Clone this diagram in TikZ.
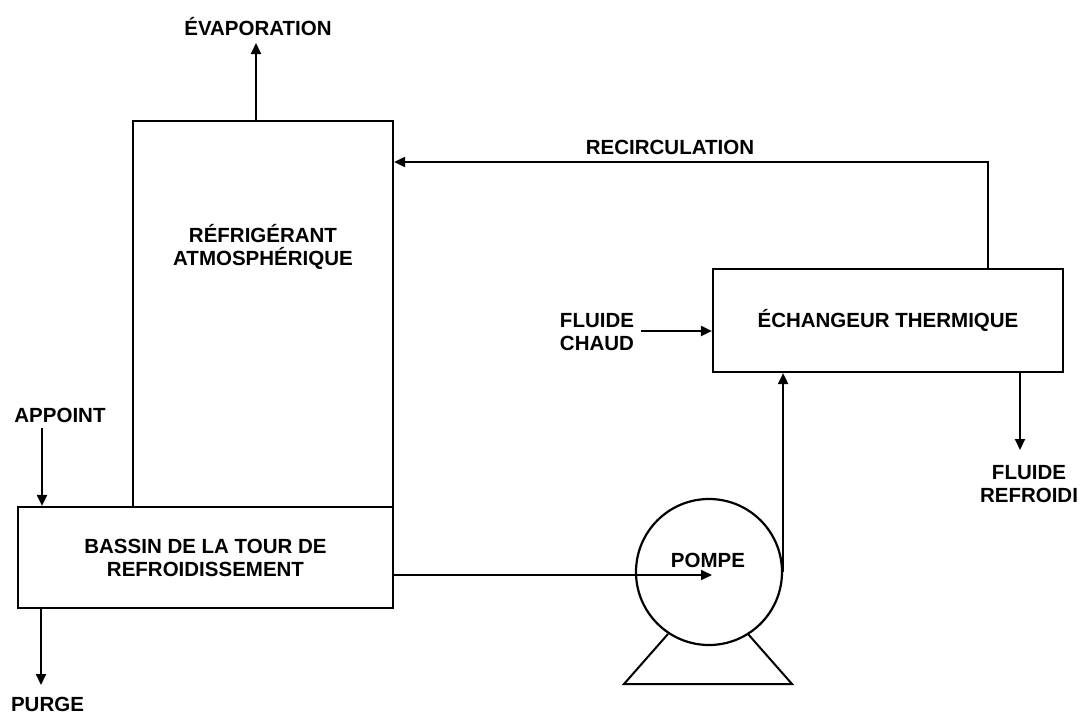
\documentclass[tikz,border=0pt]{standalone}
\usepackage{fontspec}
\setmainfont{Liberation Sans}
\usetikzlibrary{arrows.meta}
\tikzset{
  lbl/.style={font=\bfseries\fontsize{20.5}{23}\selectfont, inner sep=0pt, align=center},
  unit/.style={draw, line width=2.2pt, inner sep=0pt},
  flow/.style={line width=2pt, -{Triangle[length=11pt,width=10pt]}},
  plain/.style={line width=2pt}
}
\begin{document}
\begin{tikzpicture}[x=1pt,y=-1pt]
\useasboundingbox (0,0) rectangle (1080,715);
% units
\node[unit, minimum width=260pt, minimum height=386pt] (tower) at (263,314) {};
\node[lbl] (towertxt) at (263,247) {RÉFRIGÉRANT\\ATMOSPHÉRIQUE};
\node[unit, minimum width=375pt, minimum height=101pt, lbl, draw, line width=2.2pt] (basin) at (205.5,557.5) {BASSIN DE LA TOUR DE\\REFROIDISSEMENT};
\node[unit, minimum width=350pt, minimum height=103pt, lbl, draw, line width=2.2pt] (exch) at (888,320.5) {ÉCHANGEUR THERMIQUE};
\node[unit, circle, minimum size=146pt] (pump) at (709,572) {};
\node[lbl] (pumptxt) at (708,560) {POMPE};
% pump base
\draw[plain, line join=miter] (668,634) -- (624,684) -- (792,684) -- (748,634);
% labels
\node[lbl] (evap) at (258,27) {ÉVAPORATION};
\node[lbl] (recirc) at (670,147) {RECIRCULATION};
\node[lbl, align=left] (chaud) at (597,332) {FLUIDE\\CHAUD};
\node[lbl] (refroidi) at (1029,484) {FLUIDE\\REFROIDI};
\node[lbl] (appoint) at (60,415) {APPOINT};
\node[lbl] (purge) at (47.5,704) {PURGE};
% coordinates
\coordinate (evtop) at (256,43);
\coordinate (rc) at (988,162);
\coordinate (bp) at (712,575);
\coordinate (ap) at (42,428);
\coordinate (pg) at (41,685);
\coordinate (rf) at (1020,450);
\coordinate (ch) at (641,331);
% connectors
\draw[flow] (tower.north -| evtop) -- (evtop);
\draw[flow] (exch.north -| rc) -- (rc) -- (rc -| tower.east);
\draw[flow] (ch) -- (ch -| exch.west);
\draw[flow] (pump.east) -- (pump.east |- exch.south);
\draw[flow] (bp -| basin.east) -- (bp);
\draw[flow] (ap) -- (ap |- basin.north);
\draw[flow] (pg |- basin.south) -- (pg);
\draw[flow] (rf |- exch.south) -- (rf);
\end{tikzpicture}
\end{document}
